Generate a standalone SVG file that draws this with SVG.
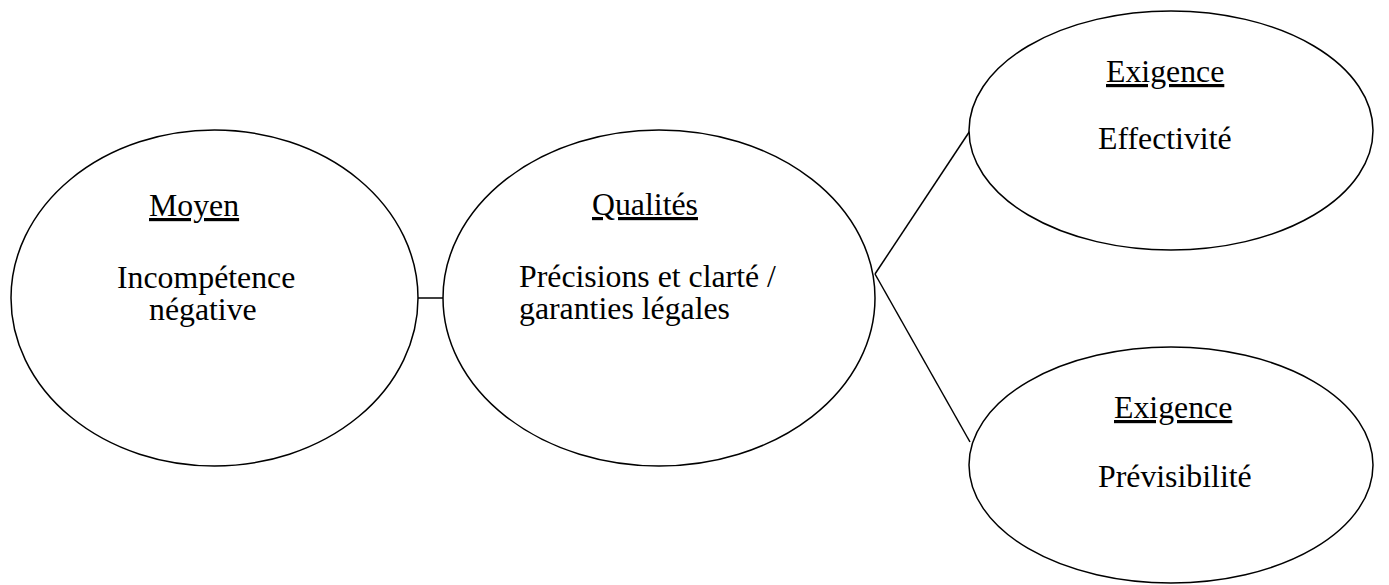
<svg xmlns="http://www.w3.org/2000/svg" width="1389" height="585" viewBox="0 0 1389 585">
<style>
.node ellipse{fill:#fff;stroke:#000;stroke-width:1.5}
.conn line{stroke:#000;stroke-width:1.5;fill:none}
text{font-family:"Liberation Serif","Times New Roman",serif;font-size:31.8px;fill:#000}
.u{text-decoration:underline}
</style>
<rect width="1389" height="585" fill="#fff"/>
<g id="connectors" class="conn">
<line x1="418" y1="298" x2="443" y2="298"/>
<line x1="875" y1="274" x2="969.5" y2="131.5"/>
<line x1="875" y1="274" x2="970" y2="442"/>
</g>
<g id="moyen" class="node">
<ellipse cx="214.5" cy="298" rx="203.5" ry="168"/>
<text x="149" y="216" class="u">Moyen</text>
<text x="117" y="288">Incompétence</text>
<text x="149" y="320">négative</text>
</g>
<g id="qualites" class="node">
<ellipse cx="659" cy="298" rx="216" ry="168"/>
<text x="592" y="215" class="u">Qualités</text>
<text x="519" y="287">Précisions et clarté /</text>
<text x="519" y="319">garanties légales</text>
</g>
<g id="effectivite" class="node">
<ellipse cx="1171" cy="130.5" rx="202" ry="119.5"/>
<text x="1106" y="82" class="u">Exigence</text>
<text x="1098" y="149">Effectivité</text>
</g>
<g id="previsibilite" class="node">
<ellipse cx="1171" cy="465" rx="202" ry="118"/>
<text x="1114" y="418" class="u">Exigence</text>
<text x="1098" y="487">Prévisibilité</text>
</g>
</svg>
